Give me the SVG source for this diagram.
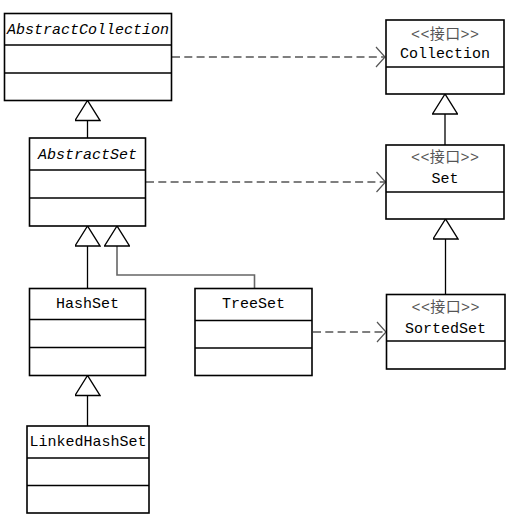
<svg xmlns="http://www.w3.org/2000/svg" width="509" height="518" viewBox="0 0 509 518">
<defs>
<style>
.box{fill:#fff;stroke:#000;stroke-width:1.6}
.div{stroke:#000;stroke-width:1.6}
.name{font-family:"Liberation Mono","DejaVu Sans Mono",monospace;font-size:15px;fill:#000;text-anchor:middle}
.abs{font-style:italic}
.st{font-family:"Liberation Mono","Noto Sans CJK SC",monospace;font-size:15px;fill:#555;text-anchor:middle}
.gen{fill:none;stroke:#000;stroke-width:1.3}
.gen2{fill:none;stroke:#666;stroke-width:1.6}
.real{fill:none;stroke:#555;stroke-width:1.4;stroke-dasharray:8,4.3}
</style>
<marker id="tri" viewBox="0 -13 22 26" refX="21" refY="0" markerWidth="22" markerHeight="26" markerUnits="userSpaceOnUse" orient="auto">
<polygon points="21,0 1,-12.5 1,12.5" fill="#fff" stroke="#000" stroke-width="1.4"/>
</marker>
<marker id="open" viewBox="0 0 11 22" refX="10" refY="11" markerWidth="11" markerHeight="22" markerUnits="userSpaceOnUse" orient="auto">
<path d="M1,1 L10,11 L1,21" fill="none" stroke="#555" stroke-width="1.2"/>
</marker>
</defs>
<rect width="509" height="518" fill="#fff"/>
<g id="connectors">
<path class="gen" d="M87.5,138 V100.5" marker-end="url(#tri)"/>
<path class="gen" d="M87.5,288.5 V226" marker-end="url(#tri)"/>
<path class="gen2" d="M254.5,288.5 V275 H117 V226" marker-end="url(#tri)"/>
<path class="gen" d="M87.5,426 V375.5" marker-end="url(#tri)"/>
<path class="gen" d="M445,145 V94" marker-end="url(#tri)"/>
<path class="gen" d="M445.5,294.5 V219" marker-end="url(#tri)"/>
<path class="real" d="M172,57 H385" marker-end="url(#open)"/>
<path class="real" d="M146,182 H385.5" marker-end="url(#open)"/>
<path class="real" d="M313,332 H386" marker-end="url(#open)"/>
</g>
<g id="AbstractCollection">
<rect class="box" x="4.5" y="13.5" width="167" height="87"/>
<line class="div" x1="4.5" y1="45" x2="171.5" y2="45"/>
<line class="div" x1="4.5" y1="73" x2="171.5" y2="73"/>
<text class="name abs" x="88" y="34">AbstractCollection</text>
</g>
<g id="AbstractSet">
<rect class="box" x="29.5" y="138" width="116" height="88"/>
<line class="div" x1="29.5" y1="170" x2="145.5" y2="170"/>
<line class="div" x1="29.5" y1="198" x2="145.5" y2="198"/>
<text class="name abs" x="87.5" y="159">AbstractSet</text>
</g>
<g id="HashSet">
<rect class="box" x="29.5" y="288.5" width="116" height="87"/>
<line class="div" x1="29.5" y1="319.5" x2="145.5" y2="319.5"/>
<line class="div" x1="29.5" y1="347.5" x2="145.5" y2="347.5"/>
<text class="name" x="87.5" y="308">HashSet</text>
</g>
<g id="LinkedHashSet">
<rect class="box" x="27" y="426" width="122" height="87"/>
<line class="div" x1="27" y1="458" x2="149" y2="458"/>
<line class="div" x1="27" y1="485.5" x2="149" y2="485.5"/>
<text class="name" x="88" y="446">LinkedHashSet</text>
</g>
<g id="TreeSet">
<rect class="box" x="195" y="288.5" width="117" height="87"/>
<line class="div" x1="195" y1="320.5" x2="312" y2="320.5"/>
<line class="div" x1="195" y1="348" x2="312" y2="348"/>
<text class="name" x="253.5" y="308">TreeSet</text>
</g>
<g id="Collection">
<rect class="box" x="386" y="20" width="118" height="74"/>
<line class="div" x1="386" y1="67" x2="504" y2="67"/>
<text class="st" x="445" y="39" textLength="68" lengthAdjust="spacing">&lt;&lt;接口&gt;&gt;</text>
<text class="name" x="445" y="58">Collection</text>
</g>
<g id="Set">
<rect class="box" x="386" y="145" width="118" height="74"/>
<line class="div" x1="386" y1="192" x2="504" y2="192"/>
<text class="st" x="445" y="162" textLength="68" lengthAdjust="spacing">&lt;&lt;接口&gt;&gt;</text>
<text class="name" x="445" y="183">Set</text>
</g>
<g id="SortedSet">
<rect class="box" x="386.5" y="294.5" width="118.5" height="74.5"/>
<line class="div" x1="386.5" y1="341" x2="505" y2="341"/>
<text class="st" x="445.5" y="312" textLength="68" lengthAdjust="spacing">&lt;&lt;接口&gt;&gt;</text>
<text class="name" x="445.5" y="333">SortedSet</text>
</g>
</svg>
